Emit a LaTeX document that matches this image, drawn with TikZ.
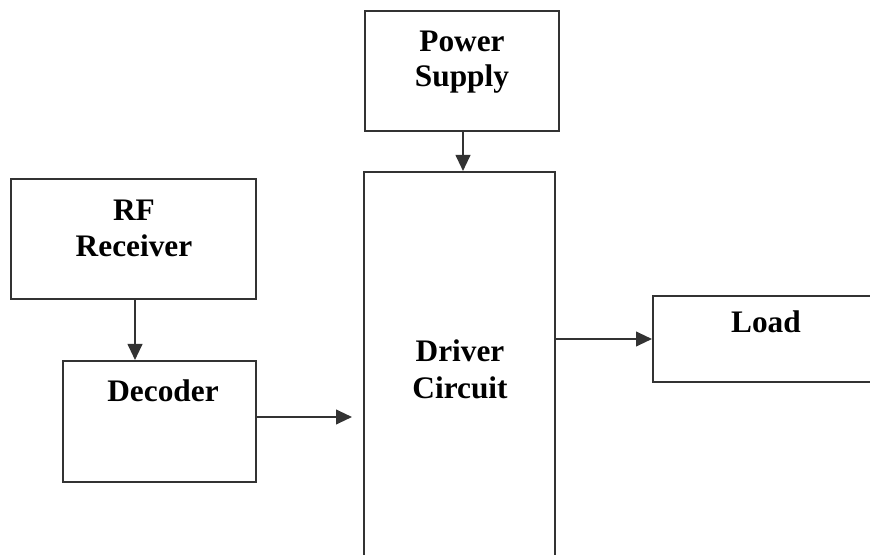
\documentclass[tikz,border=0pt]{standalone}
\usepackage{fontspec}
\setmainfont{Liberation Serif}
\usetikzlibrary{arrows.meta}
\definecolor{linegray}{HTML}{333333}
\begin{document}
\begin{tikzpicture}[x=0.75pt,y=-0.75pt,
  blk/.style={draw=linegray,line width=1.5pt,fill=white,inner sep=0pt},
  lbl/.style={anchor=base,inner sep=0pt,font=\fontsize{23.5}{28}\selectfont\bfseries,text=black},
  conn/.style={draw=linegray,line width=1.5pt,-{Triangle[length=12pt,width=11pt]}}]
\useasboundingbox (0,0) rectangle (870,555);
\clip (0,0) rectangle (870,555);
\fill[white] (0,0) rectangle (870,555);
% boxes
\node[blk,minimum width=145.5pt,minimum height=90pt] (ps) at (462,71) {};
\node[blk,minimum width=183.75pt,minimum height=90pt] (rf) at (133.5,239) {};
\node[blk,minimum width=144.75pt,minimum height=90.75pt] (dec) at (159.5,421.5) {};
\node[blk,minimum width=143.25pt,minimum height=294.75pt] (drv) at (459.5,368.5) {};
\node[blk,minimum width=166.5pt,minimum height=64.5pt] (load) at (764,339) {};
% labels
\node[lbl] (psA) at (462,52) {Power};
\node[lbl] (psB) at (462,87) {Supply};
\node[lbl] (rfA) at (134,221) {RF};
\node[lbl] (rfB) at (134,257) {Receiver};
\node[lbl] (decA) at (163,402) {Decoder};
\node[lbl] (drvA) at (460,362) {Driver};
\node[lbl] (drvB) at (460,398) {Circuit};
\node[lbl] (loadA) at (766,333) {Load};
% connectors
\coordinate (decEnd) at (352,417);
\draw[conn] (ps.south -| 463,0) -- (drv.north -| 463,0);
\draw[conn] (rf.south -| 135,0) -- (dec.north -| 135,0);
\draw[conn] (dec.east |- decEnd) -- (decEnd);
\draw[conn] (drv.east |- 0,339) -- (load.west |- 0,339);
\end{tikzpicture}
\end{document}
